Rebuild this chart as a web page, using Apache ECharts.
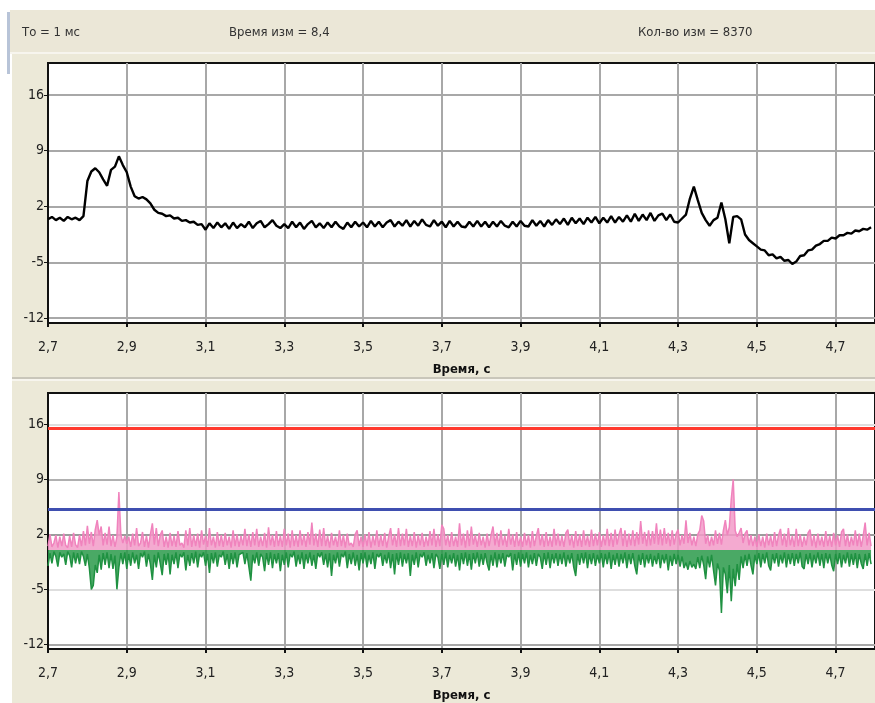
<!DOCTYPE html>
<html>
<head>
<meta charset="utf-8">
<script src="https://cdn.jsdelivr.net/npm/echarts@6/dist/echarts.min.js"></script>
<style>
  html, body { margin: 0; padding: 0; background: #fff; }
  #chart { width: 875px; height: 703px; }
</style>
</head>
<body>
<div id="chart"></div>
<script>
  // tick labels
  var xTicks = [2.7, 2.9, 3.1, 3.3, 3.5, 3.7, 3.9, 4.1, 4.3, 4.5, 4.7];
  var yTicks = [-12, -5, 2, 9, 16];

  // thresholds on the lower panel
  var redLevel = 15.5;
  var blueLevel = 5.2;

  // upper panel, one value every 10 ms starting at 2,70 s
  var signal = [
    0.4, 0.7, 0.3, 0.6, 0.2, 0.7, 0.4, 0.6, 0.3, 0.8,
    5.2, 6.4, 6.8, 6.3, 5.4, 4.6, 6.6, 7.0, 8.3, 7.2,
    6.3, 4.5, 3.3, 3.0, 3.2, 2.9, 2.4, 1.6, 1.2, 1.1,
    0.8, 0.9, 0.5, 0.6, 0.2, 0.3, 0.0, 0.1, -0.3, -0.2,
    -0.9, -0.1, -0.7, 0.0, -0.6, -0.1, -0.8, 0.0, -0.7, -0.2,
    -0.6, 0.1, -0.7, -0.1, 0.2, -0.6, -0.2, 0.3, -0.4, -0.7,
    -0.2, -0.7, 0.1, -0.6, 0.0, -0.8, -0.2, 0.2, -0.6, -0.1,
    -0.7, 0.0, -0.6, 0.1, -0.5, -0.8, 0.0, -0.6, 0.1, -0.5,
    0.0, -0.6, 0.2, -0.5, 0.1, -0.6, 0.0, 0.3, -0.5, 0.1,
    -0.4, 0.3, -0.5, 0.2, -0.4, 0.4, -0.3, -0.5, 0.3, -0.4,
    0.1, -0.6, 0.2, -0.5, 0.1, -0.5, -0.6, 0.1, -0.5, 0.2,
    -0.5, 0.1, -0.6, 0.1, -0.5, 0.2, -0.4, -0.6, 0.1, -0.5,
    0.2, -0.4, -0.5, 0.3, -0.4, 0.2, -0.5, 0.3, -0.3, 0.4,
    -0.2, 0.5, -0.3, 0.6, -0.1, 0.5, -0.2, 0.6, 0.0, 0.7,
    -0.1, 0.6, 0.0, 0.8, 0.0, 0.7, 0.1, 0.9, 0.1, 1.1,
    0.2, 1.0, 0.3, 1.2, 0.2, 0.9, 1.1, 0.3, 1.0, 0.1,
    0.0, 0.5, 1.0, 3.0, 4.5, 2.8, 1.2, 0.3, -0.4, 0.3,
    0.6, 2.5, 0.4, -2.6, 0.7, 0.8, 0.4, -1.5, -2.2, -2.6,
    -3.0, -3.4, -3.5, -4.1, -4.0, -4.5, -4.3, -4.8, -4.7, -5.2,
    -4.9, -4.2, -4.1, -3.5, -3.4, -2.9, -2.7, -2.3, -2.3, -1.9,
    -2.0, -1.6, -1.6, -1.3, -1.4, -1.0, -1.1, -0.8, -0.9, -0.6
  ];

  // lower panel, one value every 5 ms starting at 2,70 s
  var pinkVals = [
    0.5, 2.0, 0.4, 0.9, 1.9, 0.3, 1.7, 0.5, 2.1, 0.6, 0.3, 1.8, 0.4, 2.2, 0.7, 0.3, 1.9, 0.5, 2.4, 0.6,
    3.1, 0.8, 2.3, 0.5, 2.6, 3.8, 1.9, 3.0, 0.6, 2.2, 0.7, 3.0, 0.5, 1.9, 0.4, 1.7, 7.4, 2.0, 0.9, 1.8,
    0.8, 1.7, 0.4, 2.1, 0.6, 2.8, 0.5, 0.9, 2.3, 0.4, 1.8, 0.3, 2.0, 3.4, 0.7, 2.8, 0.5, 1.9, 2.5, 0.4,
    1.7, 0.3, 2.2, 0.5, 1.8, 0.4, 2.4, 0.6, 0.9, 0.3, 2.5, 0.6, 2.8, 0.4, 1.9, 0.5, 2.1, 0.3, 2.5, 0.7,
    1.8, 0.4, 2.8, 0.6, 1.7, 0.3, 2.3, 0.5, 1.9, 0.4, 2.2, 0.6, 1.7, 0.3, 2.5, 0.5, 2.0, 0.4, 1.8, 0.6,
    2.7, 0.5, 2.0, 0.4, 2.3, 0.6, 2.7, 0.4, 1.7, 0.5, 2.2, 0.3, 2.9, 0.6, 1.9, 0.4, 2.4, 0.5, 1.8, 0.4,
    2.7, 0.6, 2.1, 0.3, 2.5, 0.5, 1.9, 0.4, 2.5, 0.6, 2.0, 0.4, 2.3, 0.7, 3.5, 0.6, 2.1, 0.4, 2.6, 0.5,
    2.8, 0.5, 1.8, 0.3, 2.2, 0.6, 1.7, 0.4, 2.5, 0.5, 1.9, 0.3, 2.1, 0.6, 0.9, 0.4, 2.0, 2.5, 0.5, 1.7,
    0.4, 2.0, 0.5, 2.3, 0.3, 1.8, 0.6, 2.5, 0.4, 1.9, 0.5, 2.2, 0.3, 1.7, 2.8, 0.6, 2.0, 0.4, 2.8, 0.5,
    2.1, 0.6, 2.7, 0.4, 1.8, 0.5, 2.3, 0.3, 1.9, 0.6, 2.2, 0.4, 1.7, 0.5, 2.4, 0.6, 2.7, 0.4, 2.0, 0.5,
    3.2, 2.7, 0.6, 1.9, 0.4, 2.3, 0.5, 1.7, 0.4, 3.4, 0.6, 2.1, 0.3, 2.5, 0.5, 3.0, 0.7, 1.9, 0.4, 2.2,
    0.6, 1.7, 0.3, 2.1, 0.5, 1.9, 3.0, 0.6, 2.2, 0.4, 2.5, 0.6, 1.8, 0.4, 2.7, 0.7, 2.0, 0.4, 2.3, 0.5,
    1.7, 0.4, 2.2, 0.6, 1.9, 0.3, 2.4, 0.5, 1.8, 2.8, 0.6, 2.0, 0.4, 2.3, 0.5, 1.7, 0.4, 2.7, 0.6, 2.1,
    0.5, 1.8, 0.4, 2.2, 2.6, 0.6, 1.9, 0.3, 2.4, 0.5, 2.0, 0.4, 2.5, 0.6, 1.8, 0.4, 2.6, 0.5, 2.1, 0.6,
    2.3, 0.4, 1.9, 0.6, 2.7, 0.5, 2.2, 0.4, 2.6, 0.7, 2.0, 2.8, 0.5, 2.5, 0.4, 2.1, 0.6, 2.5, 0.5, 2.3,
    0.7, 3.7, 0.8, 2.3, 0.5, 2.5, 0.6, 2.4, 0.8, 3.4, 0.7, 2.6, 0.6, 2.8, 0.8, 2.2, 0.5, 2.5, 0.7, 2.1,
    2.6, 0.6, 1.9, 0.8, 3.8, 0.9, 2.2, 0.6, 1.7, 0.5, 2.0, 2.5, 4.4, 3.7, 0.8, 1.9, 0.5, 1.7, 0.6, 2.5,
    0.8, 2.2, 0.7, 2.5, 3.8, 1.9, 2.9, 6.5, 9.0, 2.5, 1.7, 2.2, 2.8, 0.9, 2.1, 2.5, 0.6, 1.9, 0.5, 1.7,
    0.4, 2.0, 0.5, 1.7, 0.3, 2.1, 0.6, 1.8, 0.4, 2.3, 0.5, 1.9, 2.7, 0.6, 2.1, 0.4, 2.8, 0.6, 1.8, 0.4,
    2.7, 0.5, 2.0, 0.4, 1.7, 0.6, 2.2, 2.6, 0.5, 1.9, 0.3, 2.1, 0.6, 1.7, 0.4, 2.4, 0.5, 1.8, 0.4, 2.2,
    0.6, 1.9, 0.4, 2.3, 2.7, 0.5, 2.0, 0.4, 1.7, 0.6, 2.5, 0.5, 2.1, 0.4, 1.8, 3.5, 0.6, 2.2, 0.5
  ];
  var greenVals = [
    -2.0, -0.4, -1.7, -0.2, -0.8, -2.1, -0.3, -0.9, -0.5, -1.9, -0.2, -0.7, -2.2, -0.3, -1.7, -0.4, -1.8, -0.2, -0.8, -2.0,
    -0.5, -2.3, -5.0, -4.5, -1.9, -2.9, -0.6, -2.5, -0.4, -1.9, -0.3, -2.3, -0.5, -2.4, -0.7, -5.0, -2.2, -0.4, -1.8, -0.3,
    -2.4, -0.5, -2.0, -0.3, -1.7, -0.6, -2.4, -0.4, -0.9, -0.2, -2.1, -0.5, -1.8, -3.8, -0.6, -2.2, -0.3, -1.7, -3.2, -0.5,
    -1.9, -0.4, -3.1, -0.6, -1.8, -0.3, -2.3, -0.5, -0.9, -0.3, -2.6, -0.6, -2.0, -0.4, -1.7, -0.2, -2.2, -0.5, -0.9, -0.3,
    -2.0, -0.5, -2.9, -0.4, -1.7, -0.3, -2.1, -0.6, -0.9, -0.2, -1.9, -0.5, -2.4, -0.4, -1.8, -0.3, -2.2, -0.6, -0.8, -0.3,
    -1.8, -0.4, -2.1, -3.9, -0.6, -1.7, -0.3, -2.0, -0.5, -0.9, -2.7, -0.4, -1.9, -0.3, -2.3, -0.5, -1.7, -0.4, -2.7, -0.6,
    -1.9, -0.3, -2.2, -0.5, -0.9, -0.2, -2.1, -0.6, -1.8, -0.3, -2.4, -0.5, -1.7, -0.3, -2.0, -0.6, -2.4, -0.4, -0.9, -0.3,
    -1.9, -0.5, -2.2, -0.4, -3.3, -0.6, -1.7, -0.3, -2.1, -0.5, -0.9, -0.2, -2.3, -0.5, -1.8, -0.3, -2.0, -0.6, -2.6, -0.4,
    -1.7, -0.3, -2.2, -0.6, -1.8, -0.3, -2.4, -0.5, -0.9, -0.4, -2.0, -0.6, -1.7, -0.3, -2.3, -0.5, -3.1, -0.4, -1.9, -0.3,
    -2.1, -0.5, -1.7, -0.4, -3.3, -0.6, -1.9, -0.3, -2.2, -0.5, -0.9, -0.3, -2.0, -0.6, -1.7, -0.4, -2.3, -0.5, -0.9, -2.4,
    -0.5, -1.9, -0.3, -2.2, -0.6, -1.7, -0.4, -2.1, -0.6, -2.6, -0.4, -1.8, -0.3, -2.0, -0.5, -2.5, -0.4, -1.7, -0.3, -2.1,
    -0.5, -1.9, -0.4, -1.7, -2.6, -0.6, -2.0, -0.3, -2.2, -0.5, -1.7, -0.4, -2.1, -0.6, -0.9, -0.4, -2.6, -0.5, -1.9, -0.3,
    -2.1, -0.5, -1.7, -0.3, -2.2, -0.6, -1.8, -0.4, -2.0, -0.5, -0.9, -2.4, -0.4, -1.9, -0.3, -2.3, -0.5, -1.7, -0.4, -2.0,
    -0.5, -1.8, -0.3, -2.1, -0.6, -1.7, -0.4, -2.2, -3.3, -0.5, -1.9, -0.4, -1.7, -0.3, -2.3, -0.5, -1.8, -0.4, -2.0, -0.6,
    -1.7, -0.4, -2.2, -0.5, -1.8, -0.3, -2.4, -0.6, -1.9, -0.4, -2.1, -0.5, -1.7, -0.3, -2.3, -0.5, -1.8, -0.4, -2.0, -3.1,
    -0.6, -1.9, -0.4, -2.2, -0.6, -1.7, -0.5, -2.1, -0.7, -1.8, -0.4, -2.3, -0.6, -1.7, -0.5, -2.6, -0.7, -2.0, -0.5, -1.8,
    -0.6, -2.1, -0.8, -2.3, -1.6, -2.5, -1.4, -2.2, -1.8, -2.4, -0.9, -2.3, -0.7, -1.9, -3.7, -0.8, -2.2, -0.6, -2.6, -4.5,
    -1.7, -2.6, -8.0, -2.2, -3.1, -5.5, -1.9, -6.5, -2.4, -4.6, -1.8, -3.8, -0.8, -2.3, -0.6, -2.0, -0.5, -1.9, -3.1, -0.6,
    -1.8, -0.4, -2.2, -0.5, -1.7, -0.3, -2.0, -2.6, -0.5, -1.7, -0.4, -2.1, -0.6, -1.7, -0.3, -2.2, -0.5, -1.8, -0.4, -2.0,
    -0.5, -1.7, -0.3, -2.1, -2.4, -0.5, -1.8, -0.4, -2.2, -0.6, -1.7, -0.3, -2.0, -0.5, -2.3, -0.4, -1.7, -0.5, -1.9, -2.7,
    -0.5, -1.8, -0.4, -2.2, -0.6, -1.7, -0.3, -2.1, -0.5, -1.9, -0.4, -2.3, -0.5, -1.7, -2.4, -0.5, -2.0, -0.4, -1.8
  ];

  var font = "'Liberation Sans Narrow', 'DejaVu Sans Condensed', Arial, sans-serif";

  // time base: sample period in ms
  function withTime(vals, stepMs) {
    return vals.map(function (v, i) { return [(2700 + i * stepMs) / 1000, v]; });
  }

  function makeX(gridIndex) {
    return {
      type: 'value', gridIndex: gridIndex, min: 2.7, max: 4.8,
      name: 'Время, с', nameLocation: 'middle', nameGap: 40,
      nameTextStyle: { fontFamily: font, fontSize: 13, fontWeight: 'bold', color: '#111' },
      axisLine: { onZero: false, lineStyle: { color: '#111', width: 2 } },
      axisTick: { show: true, customValues: xTicks, length: 4, lineStyle: { color: '#111', width: 2 } },
      axisLabel: {
        customValues: xTicks, margin: 17, fontFamily: font, fontSize: 14, color: '#222',
        formatter: function (v) { return String(v).replace('.', ','); }
      },
      splitLine: { show: true, lineStyle: { color: '#a8a8a8', width: 2 } }
    };
  }

  function makeY(gridIndex, lineColors) {
    return {
      type: 'value', gridIndex: gridIndex, min: -12.6, max: 20,
      axisLine: { show: true, onZero: false, lineStyle: { color: '#111', width: 2 } },
      axisTick: { show: true, customValues: yTicks, length: 4, lineStyle: { color: '#111', width: 1 } },
      axisLabel: { customValues: yTicks, margin: 4, fontFamily: font, fontSize: 14, color: '#222' },
      splitLine: { show: true, lineStyle: { color: lineColors, width: 2 } }
    };
  }

  var chart = echarts.init(document.getElementById('chart'));
  chart.setOption({
    backgroundColor: '#fff',
    animation: false,
    graphic: [
      { type: 'rect', shape: { x: 12, y: 54, width: 863, height: 649 }, style: { fill: '#ece9d8' }, z: -10 },
      { type: 'rect', shape: { x: 10, y: 10, width: 865, height: 42 }, style: { fill: '#ebe7d7' }, z: -10 },
      { type: 'rect', shape: { x: 10, y: 52, width: 865, height: 2 }, style: { fill: '#f7f5ee' }, z: -10 },
      { type: 'rect', shape: { x: 12, y: 377, width: 863, height: 2 }, style: { fill: '#c9c6ba' }, z: -10 },
      { type: 'rect', shape: { x: 12, y: 379, width: 863, height: 2 }, style: { fill: '#f7f5ee' }, z: -10 },
      { type: 'rect', shape: { x: 7, y: 12, width: 3, height: 62 }, style: { fill: '#b8c4d8' }, z: -10 },
      { type: 'text', left: 22, top: 26, style: { text: 'Tо = 1 мс', font: '13px ' + font, fill: '#333' } },
      { type: 'text', left: 229, top: 26, style: { text: 'Время изм = 8,4', font: '13px ' + font, fill: '#333' } },
      { type: 'text', left: 638, top: 26, style: { text: 'Кол-во изм = 8370', font: '13px ' + font, fill: '#333' } }
    ],
    grid: [
      { left: 48, right: -3, top: 63, height: 260, show: true, backgroundColor: '#fff', borderColor: '#111', borderWidth: 2 },
      { left: 48, right: -3, top: 393, height: 257, show: true, backgroundColor: '#fff', borderColor: '#111', borderWidth: 2 }
    ],
    xAxis: [makeX(0), makeX(1)],
    yAxis: [
      makeY(0, ['#a8a8a8']),
      makeY(1, ['#a8a8a8', '#dedede', '#9c9c9c', '#b0b0b0', '#dedede'])
    ],
    series: [
      {
        type: 'line', xAxisIndex: 0, yAxisIndex: 0, data: withTime(signal, 10),
        showSymbol: false, lineStyle: { color: '#000', width: 2.4 }
      },
      {
        type: 'line', xAxisIndex: 1, yAxisIndex: 1, data: withTime(greenVals, 5),
        showSymbol: false, lineStyle: { color: '#1f9141', width: 1.5 },
        areaStyle: { color: '#2a9a4a', opacity: 0.85, origin: 0 }
      },
      {
        type: 'line', xAxisIndex: 1, yAxisIndex: 1, data: withTime(pinkVals, 5),
        showSymbol: false, lineStyle: { color: '#f083bd', width: 1.5 },
        areaStyle: { color: '#f29bc8', opacity: 0.85, origin: 0 },
        markLine: {
          silent: true, symbol: 'none', label: { show: false },
          data: [
            { yAxis: redLevel, lineStyle: { color: '#ff3a2e', width: 3, type: 'solid' } },
            { yAxis: blueLevel, lineStyle: { color: '#3f4fb0', width: 3, type: 'solid' } }
          ]
        }
      }
    ]
  });
</script>
</body>
</html>
